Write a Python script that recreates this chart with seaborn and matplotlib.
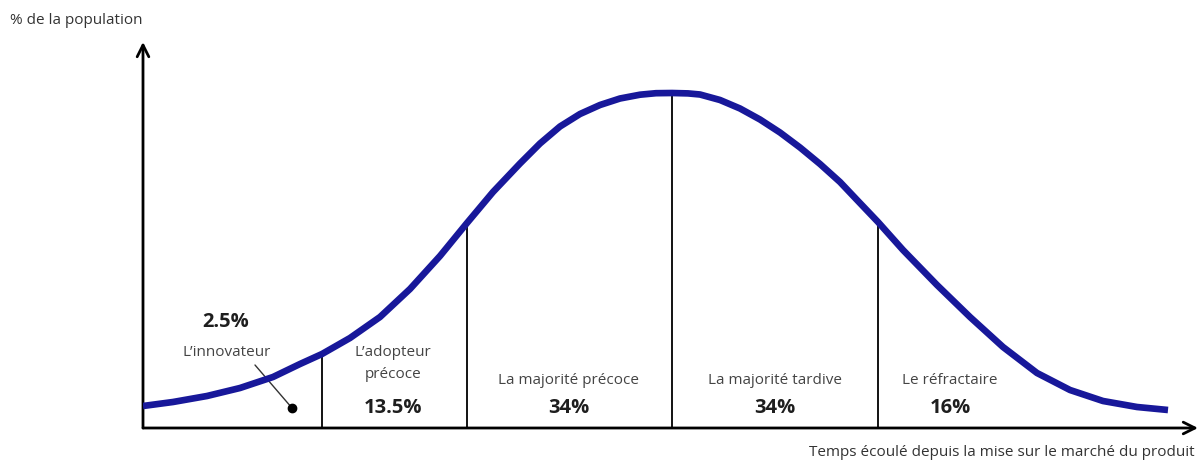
import numpy as np
import pandas as pd
import matplotlib
matplotlib.use("Agg")
import matplotlib.pyplot as plt
import seaborn as sns

# ---- data (time since launch, height of adoption curve; arbitrary units)
time_vals = [0, 30, 64, 97, 130, 157, 179, 207, 237, 267, 297, 324, 350, 377, 397, 417,
             437, 457, 477, 497, 513, 529, 545, 557, 577, 597, 617, 637, 657, 677, 697, 715,
             735, 760, 794, 827, 860, 894, 927, 960, 994, 1025]
adopt_vals = [22, 26, 32, 40, 51, 64, 74, 90, 111, 139, 172, 205, 236, 264.5, 284.5, 301.5,
              314, 323, 329.5, 333.3, 334.8, 335, 334.6, 333.5, 328, 319.5, 308.5, 295.5, 280.5, 264, 246, 227,
              206, 178, 143, 111, 81, 55, 38, 27, 21, 18]

boundary_idx = [6, 11, 21, 32]          # indices of the segment boundaries in the curve
segment_names = ["L\u2019innovateur", "L\u2019adopteur\npr\u00e9coce", "La majorit\u00e9 pr\u00e9coce",
                 "La majorit\u00e9 tardive", "Le r\u00e9fractaire"]
segment_shares = ["2.5%", "13.5%", "34%", "34%", "16%"]
y_label = "% de la population"
x_label = "Temps \u00e9coul\u00e9 depuis la mise sur le march\u00e9 du produit"

df = pd.DataFrame({"t": time_vals, "h": adopt_vals})

sns.set_theme(style="white")
plt.rcParams["font.family"] = ["Open Sans", "DejaVu Sans"]

W, H = 1200, 462
fig = plt.figure(figsize=(W / 100, H / 100), dpi=100)
fig.patch.set_facecolor("white")
x0, x1, yb, yt = 143, 1198, 428, 42
ax = fig.add_axes([x0 / W, (H - yb) / H, (x1 - x0) / W, (yb - yt) / H])
ax.set_xlim(0, x1 - x0)
ax.set_ylim(0, yb - yt)
for s in ax.spines.values():
    s.set_visible(False)
ax.set_xticks([])
ax.set_yticks([])
ax.set_facecolor("white")

# axes arrows
ax.annotate("", xy=(0, 1.0), xytext=(0, 0), xycoords="axes fraction",
            arrowprops=dict(arrowstyle="->,head_length=0.7,head_width=0.35", lw=2.0, color="black",
                            shrinkA=0, shrinkB=0))
ax.annotate("", xy=(1.0, 0), xytext=(0, 0), xycoords="axes fraction",
            arrowprops=dict(arrowstyle="->,head_length=0.7,head_width=0.35", lw=2.0, color="black",
                            shrinkA=0, shrinkB=0))

# boundary lines
for i in boundary_idx:
    ax.vlines(time_vals[i], 0, adopt_vals[i], color="black", lw=1.3, zorder=2)

# curve
sns.lineplot(data=df, x="t", y="h", ax=ax, color="#18189a", lw=4.8, zorder=3,
             solid_capstyle="butt", solid_joinstyle="round")
ax.set_xlabel("")
ax.set_ylabel("")

lab_col = "#444444"
num_col = "#1e1e1e"
lab_fs = 11
num_fs = 14.5
# innovateur
ax.text(83, 106, segment_shares[0], ha="center", va="center", fontsize=num_fs, fontweight="bold", color=num_col)
ax.text(84, 76, segment_names[0], ha="center", va="center", fontsize=lab_fs, color=lab_col)
ax.plot([112, 149], [63, 20], color="#333333", lw=1.0)
ax.plot([149], [20], "o", color="black", ms=6)
# adopteur précoce
ax.text(250, 76, "L\u2019adopteur", ha="center", va="center", fontsize=lab_fs, color=lab_col)
ax.text(250, 53, "pr\u00e9coce", ha="center", va="center", fontsize=lab_fs, color=lab_col)
ax.text(250, 20, segment_shares[1], ha="center", va="center", fontsize=num_fs, fontweight="bold", color=num_col)
# others
for name, share, cx in zip(segment_names[2:], segment_shares[2:], [426, 632, 807]):
    ax.text(cx, 48, name, ha="center", va="center", fontsize=lab_fs, color=lab_col)
    ax.text(cx, 20, share, ha="center", va="center", fontsize=num_fs, fontweight="bold", color=num_col)

fig.text(10 / W, 1 - 20 / H, y_label, ha="left", va="center", fontsize=11, color="#333333")
fig.text(1195 / W, 1 - 453 / H, x_label, ha="right", va="center", fontsize=11, color="#333333")

fig.savefig("out.png", dpi=100, facecolor="white")
